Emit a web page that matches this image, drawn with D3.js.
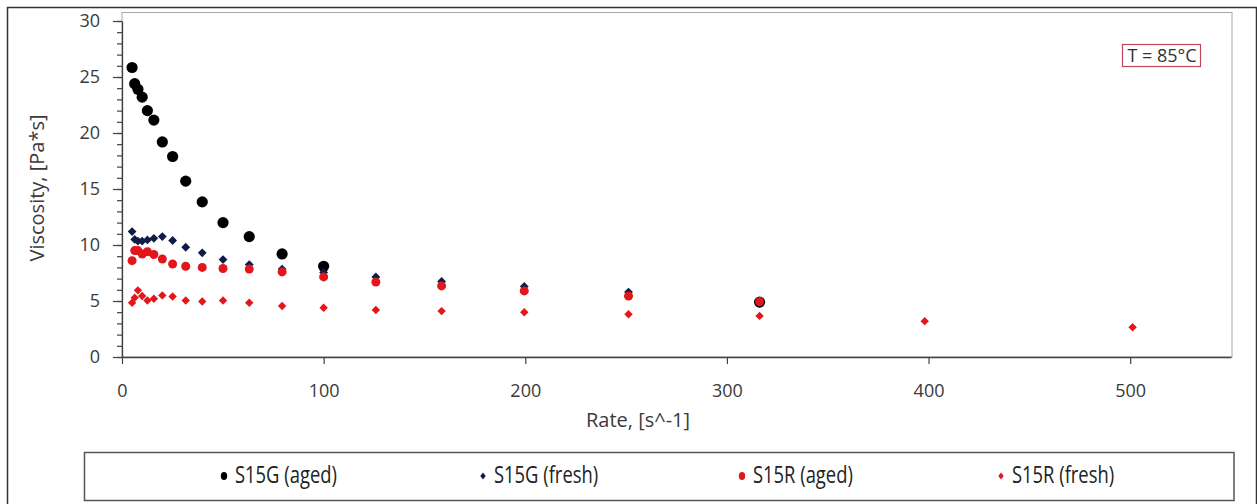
<!DOCTYPE html>
<html>
<head>
<meta charset="utf-8">
<script src="https://cdn.jsdelivr.net/npm/d3@7"></script>
<style>
  body { margin: 0; background: #fff; }
  text { font-family: "Open Sans", sans-serif; }
</style>
</head>
<body>
<div id="chartDiv"></div>
<script>

// shear rates, [s^-1]
var rates = [5.0, 6.3, 7.9, 10.0, 12.6, 15.8, 20.0, 25.1, 31.6, 39.8, 50.1, 63.1, 79.4, 100.0, 125.9, 158.5, 199.5, 251.2, 316.2, 398.1, 501.2];

// viscosity readings, [Pa*s]  (null = no visible point)
var s15g_aged  = [25.85, 24.4, 23.9, 23.2, 22.0, 21.15, 19.2, 17.9, 15.7, 13.85, 12.0, 10.75, 9.2, 8.1, null, null, null, null, 4.9];
var s15g_fresh = [11.2, 10.5, 10.35, 10.35, 10.45, 10.6, 10.75, 10.4, 9.8, 9.3, 8.7, 8.25, 7.85, 7.55, 7.15, 6.75, 6.3, 5.8, 4.8];
var s15r_aged  = [8.6, 9.5, 9.5, 9.2, 9.4, 9.15, 8.75, 8.3, 8.1, 8.0, 7.9, 7.85, 7.6, 7.15, 6.7, 6.35, 5.9, 5.45, 4.95];
var s15r_fresh = [4.85, 5.3, 5.95, 5.45, 5.05, 5.2, 5.5, 5.4, 5.05, 4.95, 5.05, 4.85, 4.55, 4.4, 4.2, 4.1, 4.0, 3.82, 3.67, 3.2, 2.65];

var seriesNames = ["S15G (aged)", "S15G (fresh)", "S15R (aged)", "S15R (fresh)"];

var xTicks = [0, 100, 200, 300, 400, 500];
var yTicks = [0, 5, 10, 15, 20, 25, 30];

var series = [
  {name: seriesNames[0], values: s15g_aged,  shape: "circle",  color: "#000000", r: 5.6},
  {name: seriesNames[1], values: s15g_fresh, shape: "diamond", color: "#101c48", r: 4.4},
  {name: seriesNames[2], values: s15r_aged,  shape: "circle",  color: "#e3161b", r: 4.5},
  {name: seriesNames[3], values: s15r_fresh, shape: "diamond", color: "#e3161b", r: 4.2}
];

var svg = d3.select("#chartDiv").append("svg")
    .attr("width", 1257)
    .attr("height", 504);

var plot = {left: 122, right: 1231, top: 21, bottom: 357};

var x_scale = d3.scaleLinear().domain([0, 550]).range([plot.left, plot.right]);
var y_scale = d3.scaleLinear().domain([0, 30]).range([plot.bottom, plot.top]);

// outer chart frame
svg.append("rect")
  .attr("x", 7.5).attr("y", 7.5)
  .attr("width", 1249).attr("height", 530)
  .attr("fill", "none").attr("stroke", "#333").attr("stroke-width", 1.5);

// plot area frame
svg.append("rect")
  .attr("x", plot.left).attr("y", 12.5)
  .attr("width", plot.right - plot.left + 1).attr("height", plot.bottom - 12.5)
  .attr("fill", "none").attr("stroke", "#a8a8a8").attr("stroke-width", 1);

// minor y ticks
svg.append("g")
  .attr("transform", "translate(" + plot.left + ",0)")
  .call(d3.axisLeft(y_scale).tickValues(d3.range(0, 31, 1)).tickSize(5).tickFormat(""))
  .call(function(g){ g.select(".domain").remove(); })
  .selectAll("line").attr("stroke", "#404040").attr("stroke-width", 1.2);

var yGroup = svg.append("g")
  .attr("transform", "translate(" + plot.left + ",0)")
  .call(d3.axisLeft(y_scale).tickValues(yTicks).tickSize(9).tickSizeOuter(0).tickPadding(13));

var xGroup = svg.append("g")
  .attr("transform", "translate(0," + plot.bottom + ")")
  .call(d3.axisBottom(x_scale).tickValues(xTicks).tickSize(7).tickSizeOuter(0).tickPadding(20));

[yGroup, xGroup].forEach(function(g){
  g.select(".domain").attr("stroke", "#404040").attr("stroke-width", 1.3);
  g.selectAll(".tick line").attr("stroke", "#404040").attr("stroke-width", 1.2);
  g.selectAll(".tick text")
    .attr("fill", "#3a3a3a")
    .style("font-family", "'Open Sans', sans-serif")
    .style("font-size", "18px");
});

// axis titles
svg.append("text")
  .attr("transform", "translate(44,188) rotate(-90)")
  .attr("text-anchor", "middle")
  .attr("fill", "#3a3a3a")
  .style("font-size", "20px")
  .text("Viscosity, [Pa*s]");

svg.append("text")
  .attr("x", 638).attr("y", 427)
  .attr("text-anchor", "middle")
  .attr("fill", "#3a3a3a")
  .style("font-size", "20px")
  .text("Rate, [s^-1]");

// temperature note
svg.append("rect")
  .attr("x", 1122.5).attr("y", 44.5)
  .attr("width", 78).attr("height", 22)
  .attr("fill", "#fff").attr("stroke", "#c0485a").attr("stroke-width", 1.2);

svg.append("text")
  .attr("x", 1162).attr("y", 62)
  .attr("text-anchor", "middle")
  .attr("fill", "#333")
  .style("font-size", "18px")
  .text("T = 85°C");

function drawMarker(sel, shape, r, color){
  if (shape == "circle"){
    sel.append("circle").attr("r", r).attr("fill", color);
  } else {
    var s = r * Math.SQRT2;
    sel.append("rect")
      .attr("x", -s / 2).attr("y", -s / 2)
      .attr("width", s).attr("height", s)
      .attr("transform", "rotate(45)")
      .attr("fill", color);
  }
}

// data points
series.forEach(function(s){
  var pts = s.values
    .map(function(v, i){ return {rate: rates[i], visc: v}; })
    .filter(function(d){ return d.visc != null; });
  svg.append("g").attr("class", "datapoint")
    .selectAll("g").data(pts).enter()
    .append("g")
      .attr("transform", function(d){ return "translate(" + x_scale(d.rate) + "," + y_scale(d.visc) + ")"; })
      .each(function(){ drawMarker(d3.select(this), s.shape, s.r, s.color); });
});

// legend
svg.append("rect")
  .attr("x", 84.5).attr("y", 452.5)
  .attr("width", 1149.5).attr("height", 48)
  .attr("fill", "none").attr("stroke", "#555").attr("stroke-width", 1.5);

var legendItems = svg.append("g").selectAll("g").data(series).enter()
  .append("g")
    .attr("transform", function(d, i){ return "translate(" + (224 + i * 259) + ",476)"; });

legendItems.each(function(d){
  var m = d3.select(this).append("g").attr("transform", "scale(0.8,1)");
  drawMarker(m, d.shape, d.shape == "circle" ? 4 : 3.4, d.color);
});

legendItems.append("text")
  .attr("transform", "translate(11,7) scale(0.8,1)")
  .attr("fill", "#222")
  .style("font-size", "23px")
  .text(function(d){ return d.name; });

</script>
</body>
</html>
